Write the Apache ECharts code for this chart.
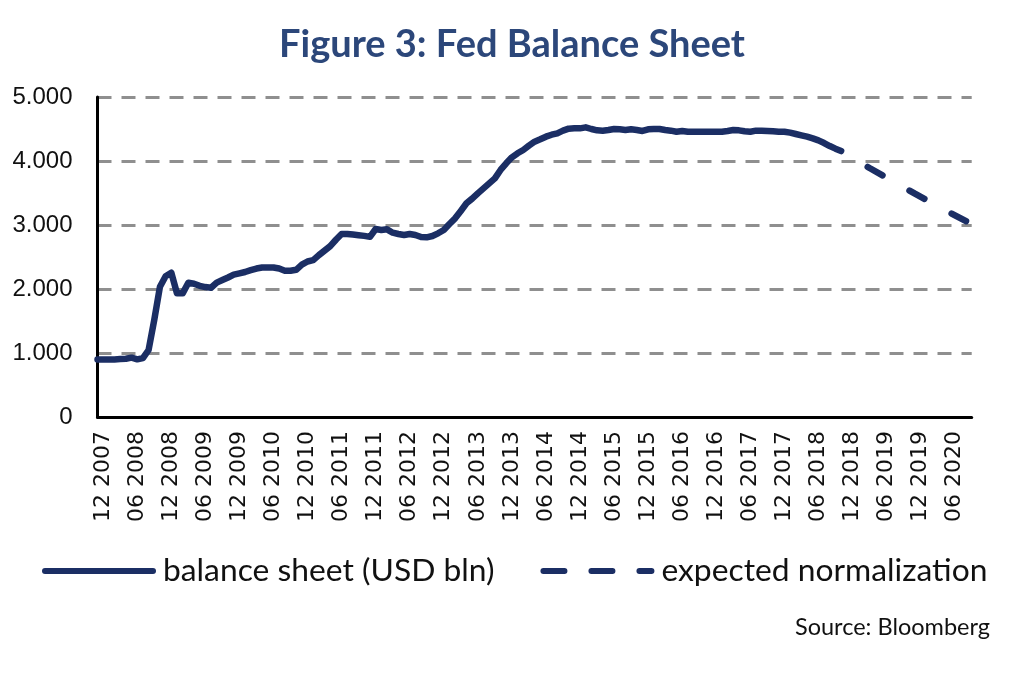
<!DOCTYPE html>
<html>
<head>
<meta charset="utf-8">
<title>Figure 3: Fed Balance Sheet</title>
<script src="https://cdn.jsdelivr.net/npm/echarts@6/dist/echarts.min.js"></script>
<style>
	html, body { margin: 0; padding: 0; background: #ffffff; }
	#fedBalance { width: 1024px; height: 682px; }
</style>
</head>
<body>
<div id="fedBalance"></div>
<script>
// monthly categories, Nov 2007 .. Sep 2020
var firstYear = 2007, firstMonth = 11, monthCount = 155;
var months = [];
for ( var i = 0; i < monthCount; i++) {
	var m = (firstMonth - 1 + i) % 12 + 1;
	var y = firstYear + Math.floor((firstMonth - 1 + i) / 12);
	months.push((m < 10 ? '0' + m : '' + m) + ' ' + y);
}
// only Dec and Jun are labelled
var labelMonths = [ '06', '12' ];
var yTicks = [ 0, 1000, 2000, 3000, 4000, 5000 ];

// balance sheet (USD bln), Nov 2007 .. Oct 2018
var balanceSheet = [ 900, 900, 900, 900, 905, 910, 927, 901, 920, 1047,
		1516, 2036, 2200, 2255, 1932, 1932, 2099, 2083, 2050, 2030,
		2020, 2100, 2140, 2180, 2225, 2245, 2265, 2295, 2320, 2336,
		2336, 2336, 2320, 2286, 2286, 2300, 2380, 2430, 2450, 2530,
		2600, 2670, 2770, 2860, 2860, 2850, 2840, 2830, 2815, 2937,
		2922, 2932, 2880, 2860, 2844, 2860, 2844, 2812, 2807, 2828,
		2870, 2922, 3016, 3104, 3219, 3339, 3412, 3495, 3573, 3651,
		3729, 3860, 3964, 4057, 4120, 4172, 4240, 4302, 4339, 4380,
		4411, 4432, 4474, 4505, 4510, 4510, 4526, 4500, 4479, 4474,
		4484, 4500, 4495, 4484, 4495, 4484, 4469, 4495, 4500, 4500,
		4484, 4474, 4458, 4469, 4458, 4458, 4458, 4458, 4458, 4458,
		4458, 4469, 4484, 4479, 4464, 4458, 4474, 4474, 4469, 4464,
		4458, 4458, 4443, 4422, 4401, 4380, 4354, 4323, 4281, 4234,
		4193, 4156 ];

// expected normalization, read at a few months
var normMonths = [ '10 2018', '03 2019', '11 2019', '05 2020', '08 2020' ];
var normValues = [ 4156, 3890, 3490, 3200, 3060 ];

var navy = '#1b2e64';

var fedChart = echarts.init(document.getElementById('fedBalance'));
fedChart.setOption({
	animation : false,
	title : [ {
		text : 'Figure 3: Fed Balance Sheet',
		left : 'center',
		top : 21,
		textStyle : {
			fontFamily : 'Lato',
			fontWeight : 'bold',
			fontSize : 38,
			color : '#2c477a'
		}
	}, {
		text : 'Source: Bloomberg',
		right : 29,
		top : 610,
		textStyle : {
			fontFamily : 'Lato',
			fontWeight : 'normal',
			fontSize : 23.5,
			color : '#111111'
		}
	} ],
	legend : {
		left : 37,
		top : 550,
		itemWidth : 108,
		itemHeight : 36,
		itemGap : 46,
		itemStyle : {
			opacity : 0
		},
		lineStyle : {
			width : 6,
			cap : 'round'
		},
		textStyle : {
			fontFamily : 'Lato',
			fontSize : 31.8,
			color : '#111111',
			padding : [ 0, 0, 0, 5 ]
		},
		data : [ {
			name : 'balance sheet (USD bln)'
		}, {
			name : 'expected normalization',
			lineStyle : {
				width : 6,
				cap : 'round',
				type : [ 21, 27 ],
				dashOffset : 0
			}
		} ]
	},
	grid : {
		left : 97.5,
		right : 52.3,
		top : 97,
		bottom : 265,
		containLabel : false
	},
	xAxis : {
		type : 'category',
		boundaryGap : false,
		data : months,
		axisLine : {
			lineStyle : {
				color : '#000000',
				width : 3
			}
		},
		axisTick : {
			show : false
		},
		axisLabel : {
			rotate : 90,
			margin : 14,
			fontFamily : 'DejaVu Sans',
			fontSize : 22,
			color : '#111111',
			interval : function(index, value) {
				return labelMonths.indexOf(value.substr(0, 2)) > -1;
			}
		},
		splitLine : {
			show : false
		}
	},
	yAxis : {
		type : 'value',
		min : yTicks[0],
		max : yTicks[yTicks.length - 1],
		interval : yTicks[1] - yTicks[0],
		axisLine : {
			show : true,
			lineStyle : {
				color : '#000000',
				width : 3
			}
		},
		axisTick : {
			show : false
		},
		axisLabel : {
			margin : 25,
			fontFamily : 'Liberation Sans',
			fontSize : 24,
			color : '#111111',
			formatter : function(value) {
				return String(value).replace(/\B(?=(\d{3})+(?!\d))/g, '.');
			}
		},
		splitLine : {
			lineStyle : {
				color : '#8f8f8f',
				width : 3,
				type : [ 14, 10 ]
			}
		}
	},
	series : [ {
		name : 'balance sheet (USD bln)',
		type : 'line',
		symbol : 'none',
		data : balanceSheet,
		lineStyle : {
			color : navy,
			width : 6.5,
			cap : 'round',
			join : 'round'
		},
		itemStyle : {
			color : navy
		}
	}, {
		name : 'expected normalization',
		type : 'line',
		symbol : 'none',
		data : normMonths.map(function(month, idx) {
			return [ month, normValues[idx] ];
		}),
		lineStyle : {
			color : navy,
			width : 6.5,
			type : [ 17, 31 ],
			dashOffset : 17,
			cap : 'round'
		},
		itemStyle : {
			color : navy
		}
	} ]
});
</script>
</body>
</html>
